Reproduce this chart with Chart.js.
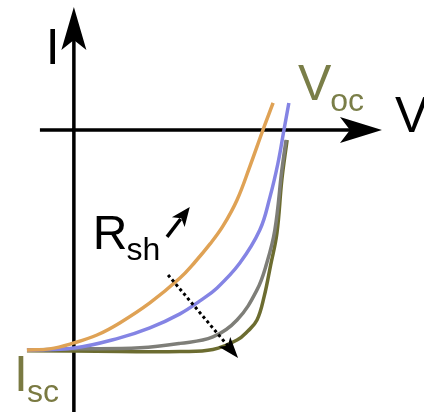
<!DOCTYPE html>
<html>
<head>
<meta charset="utf-8">
<script src="https://cdn.jsdelivr.net/npm/chart.js@4/dist/chart.umd.min.js"></script>
<style>
  html, body { margin: 0; padding: 0; background: #fff; }
  #wrap { width: 424px; height: 412px; position: relative; }
</style>
</head>
<body>
<div id="wrap"><canvas id="ivChart"></canvas></div>
<script>
// I-V curves of a solar cell for rising shunt resistance (V in volts, I normalised to Isc)
const lowRsh = [[-0.134, -1.0], [-0.069, -0.995], [0, -0.968], [0.066, -0.932], [0.131, -0.877],
  [0.217, -0.786], [0.303, -0.673], [0.346, -0.6], [0.389, -0.518], [0.426, -0.436],
  [0.466, -0.318], [0.503, -0.164], [0.54, 0], [0.569, 0.123]];
const midRsh = [[-0.134, -1.0], [0, -0.991], [0.131, -0.945], [0.217, -0.9], [0.303, -0.836],
  [0.36, -0.777], [0.409, -0.718], [0.474, -0.605], [0.531, -0.455], [0.56, -0.305],
  [0.583, -0.15], [0.6, 0], [0.614, 0.123]];
const highRsh = [[-0.134, -1.0], [0, -0.995], [0.189, -0.99], [0.303, -0.97], [0.397, -0.941],
  [0.466, -0.864], [0.523, -0.727], [0.551, -0.605], [0.574, -0.455], [0.594, -0.182], [0.606, -0.045]];
const idealRsh = [[-0.134, -1.003], [0.131, -1.007], [0.303, -1.007], [0.397, -0.998], [0.466, -0.955],
  [0.497, -0.914], [0.523, -0.864], [0.543, -0.76], [0.562, -0.614], [0.58, -0.468],
  [0.594, -0.227], [0.609, -0.045]];

const seriesNames = ["Rsh low", "Rsh mid", "Rsh high", "Rsh ideal"];
const seriesData = [lowRsh, midRsh, highRsh, idealRsh];
const seriesColors = ["#dfa255", "#8484e4", "#7e7e78", "#6c6c30"];

// arrow showing the direction of increasing Rsh (V, I)
const trendArrow = [[0.269, -0.659], [0.469, -1.036]];
const labelArrow = [[0.266, -0.486], [0.331, -0.35]];

const toXY = pts => pts.map(p => ({ x: p[0], y: p[1] }));

function arrowHead(ctx, x1, y1, x2, y2, len, half, notch) {
  const a = Math.atan2(y2 - y1, x2 - x1);
  const c = Math.cos(a), s = Math.sin(a);
  ctx.beginPath();
  ctx.moveTo(x2, y2);
  ctx.lineTo(x2 - len * c + half * s, y2 - len * s - half * c);
  ctx.lineTo(x2 - (len - notch) * c, y2 - (len - notch) * s);
  ctx.lineTo(x2 - len * c - half * s, y2 - len * s + half * c);
  ctx.closePath();
  ctx.fill();
}

function label(ctx, x, y, main, sub, color, bigSize, subSize) {
  ctx.fillStyle = color;
  ctx.textBaseline = "alphabetic";
  ctx.textAlign = "left";
  ctx.font = bigSize + "px 'Liberation Sans', Arial, sans-serif";
  ctx.fillText(main, x, y);
  if (sub) {
    const w = ctx.measureText(main).width;
    ctx.font = subSize + "px 'Liberation Sans', Arial, sans-serif";
    ctx.fillText(sub, x + w - 1, y + 11);
  }
}

const axesPlugin = {
  id: "ivAxes",
  beforeDatasetsDraw(chart) {
    const { ctx, scales: { x, y } } = chart;
    const x0 = x.getPixelForValue(0), y0 = y.getPixelForValue(0);
    const vTip = y.getPixelForValue(0.559);
    const hTip = x.getPixelForValue(0.88);
    ctx.save();
    ctx.strokeStyle = "#000";
    ctx.fillStyle = "#000";
    ctx.lineWidth = 3.5;
    ctx.beginPath();
    ctx.moveTo(x0, y.getPixelForValue(y.min));
    ctx.lineTo(x0, vTip + 30);
    ctx.moveTo(x.getPixelForValue(-0.097), y0);
    ctx.lineTo(hTip - 30, y0);
    ctx.stroke();
    arrowHead(ctx, x0, vTip + 50, x0, vTip, 43, 12.5, 10);
    arrowHead(ctx, hTip - 50, y0, hTip, y0, 42, 13, 10);
    ctx.restore();
  },
  afterDatasetsDraw(chart) {
    const { ctx, scales: { x, y } } = chart;
    ctx.save();
    ctx.strokeStyle = "#000";
    ctx.fillStyle = "#000";

    // dotted trend arrow
    const [a, b] = trendArrow.map(p => [x.getPixelForValue(p[0]), y.getPixelForValue(p[1])]);
    ctx.lineWidth = 3;
    ctx.setLineDash([3, 3]);
    ctx.beginPath();
    ctx.moveTo(a[0], a[1]);
    const t = 1 - 14 / Math.hypot(b[0] - a[0], b[1] - a[1]);
    ctx.lineTo(a[0] + (b[0] - a[0]) * t, a[1] + (b[1] - a[1]) * t);
    ctx.stroke();
    ctx.setLineDash([]);
    arrowHead(ctx, a[0], a[1], b[0], b[1], 21, 7.5, 5);

    // small arrow next to the Rsh label
    const [c, d] = labelArrow.map(p => [x.getPixelForValue(p[0]), y.getPixelForValue(p[1])]);
    ctx.lineWidth = 3.5;
    ctx.beginPath();
    ctx.moveTo(c[0], c[1]);
    ctx.lineTo(d[0] - (d[0] - c[0]) * 0.4, d[1] - (d[1] - c[1]) * 0.4);
    ctx.stroke();
    arrowHead(ctx, c[0], c[1], d[0], d[1], 19, 8, 5);

    // axis and curve labels
    const px = v => x.getPixelForValue(v), py = v => y.getPixelForValue(v);
    label(ctx, px(-0.08), py(0.3), "I", "", "#000", 50, 0);
    label(ctx, px(0.917), py(-0.009), "V", "", "#000", 50, 0);
    label(ctx, px(0.64), py(0.136), "V", "oc", "#7a7e48", 50, 32);
    label(ctx, px(0.054), py(-0.541), "R", "sh", "#000", 48, 32);
    label(ctx, px(-0.171), py(-1.186), "I", "sc", "#7a7a42", 50, 32);
    ctx.restore();
  }
};

new Chart(document.getElementById("ivChart"), {
  type: "scatter",
  data: {
    datasets: seriesData.map((pts, i) => ({
      label: seriesNames[i],
      data: toXY(pts),
      showLine: true,
      borderColor: seriesColors[i],
      borderWidth: 3.5,
      pointRadius: 0,
      tension: 0.4,
      borderJoinStyle: "round",
      clip: false
    }))
  },
  options: {
    responsive: true,
    maintainAspectRatio: false,
    animation: false,
    layout: { padding: 0 },
    plugins: { legend: { display: false }, tooltip: { enabled: false } },
    scales: {
      x: { type: "linear", min: -0.211, max: 1.0, display: false },
      y: { type: "linear", min: -1.282, max: 0.591, display: false }
    }
  },
  plugins: [axesPlugin]
});
</script>
</body>
</html>
